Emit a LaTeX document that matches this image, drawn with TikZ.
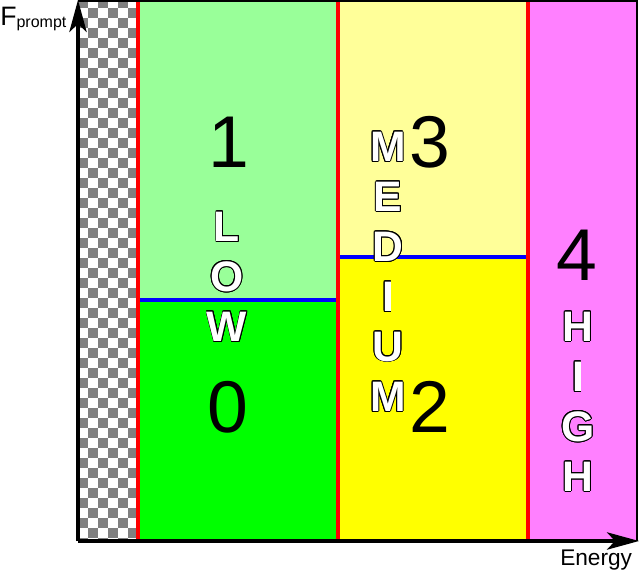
\documentclass[tikz,border=0pt]{standalone}
\usepackage{fontspec}
\setmainfont{Liberation Sans}
\usepackage{contour}
\usetikzlibrary{arrows.meta}
\contourlength{0.6pt}
\definecolor{lowtop}{HTML}{99FF99}
\definecolor{lowbot}{HTML}{00FF00}
\definecolor{medtop}{HTML}{FFFF99}
\definecolor{medbot}{HTML}{FFFF00}
\definecolor{highbox}{HTML}{FF80FF}
\definecolor{chk}{HTML}{808080}
\newcommand\outl[1]{\textcolor{white}{\contour{black}{#1}}}

\begin{document}
\begin{tikzpicture}[x=0.75pt, y=-0.75pt,
    num/.style={inner sep=0pt, font=\fontsize{55}{55}\selectfont},
    tag/.style={inner sep=0pt, font=\fontsize{32}{32}\selectfont\bfseries},
    axis/.style={line width=2.4pt, -{Stealth[length=24pt, width=13pt, inset=6pt]}},
    split/.style={blue, line width=2.4pt},
    rangeline/.style={draw=red, line width=3pt}]
  \useasboundingbox[fill=white] (0,0) rectangle (640,572);
  % checkered strip
  \begin{scope}
    \clip (78,0) rectangle (138,541);
    \foreach \i in {0,2,...,54}
      \foreach \j in {0,20,40} {
        \fill[chk] (78+\j,-2+10*\i) rectangle ++(10,10);
        \fill[chk] (88+\j,8+10*\i) rectangle ++(10,10);
      }
  \end{scope}
  % regions
  \fill[lowtop] (138,0) rectangle (338,300);
  \fill[lowbot] (138,300) rectangle (338,541);
  \fill[medtop] (338,0) rectangle (528,257);
  \fill[medbot] (338,257) rectangle (528,541);
  \fill[highbox] (528,0) rectangle (638,541);
  \draw[split] (138,300) -- (338,300);
  \draw[split] (338,257) -- (528,257);
  \foreach \xx in {138,338,528}
    \draw[rangeline] (\xx,0) -- (\xx,541);
  \draw[line width=2pt] (78,1) -- (637,1) -- (637,541);
  % axes
  \coordinate (origin) at (78,541);
  \coordinate (ytop) at (78,0);
  \coordinate (xend) at (639,541);
  \draw[axis] (origin) -- (ytop);
  \draw[axis] (origin) -- (xend);
  \node[anchor=base west, inner sep=0pt] (ylabel) at (0,25)
    {{\fontsize{20}{20}\selectfont F}{\fontsize{12}{12}\selectfont\raisebox{-2pt}{prompt}}};
  \node[anchor=base west, inner sep=0pt, font=\fontsize{17}{17}\selectfont] (xlabel) at (560,565) {Energy};
  % class numbers
  \node[num] (c1) at (229,142) {1};
  \node[num] (c0) at (228,407) {0};
  \node[num] (c3) at (430,142) {3};
  \node[num] (c2) at (430,407) {2};
  \node[num] (c4) at (577,255) {4};
  % range names
  \foreach \ch [count=\i] in {L,O,W}
    \node[tag] (low\i) at (227,{227+50*(\i-1)}) {\outl{\ch}};
  \foreach \ch [count=\i] in {M,E,D,I,U,M}
    \node[tag] (med\i) at (388,{147+50*(\i-1)}) {\outl{\ch}};
  \foreach \ch [count=\i] in {H,I,G,H}
    \node[tag] (high\i) at (578,{327+50*(\i-1)}) {\outl{\ch}};
\end{tikzpicture}
\end{document}
